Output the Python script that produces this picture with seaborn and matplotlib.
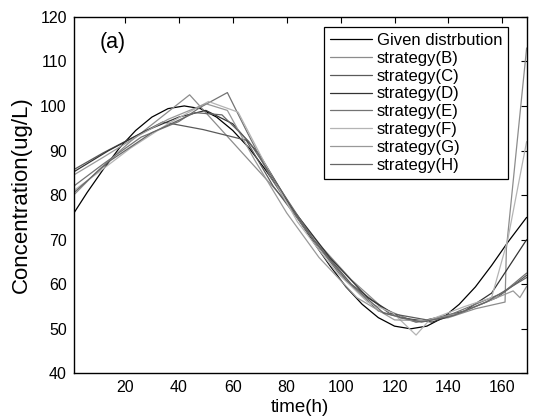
import pandas as pd
import seaborn as sns
import matplotlib.pyplot as plt

# given distribution (read every 6 h)
t_given = [1, 6, 12, 18, 24, 30, 36, 42, 48, 54, 60, 66, 72, 78, 84, 90, 96,
           102, 108, 114, 120, 126, 132, 138, 144, 150, 156, 162, 169]
v_given = [75.9, 80.6, 85.8, 90.6, 94.5, 97.5, 99.4, 100.0, 99.4, 97.5, 94.5, 90.6,
           85.8, 80.6, 75.0, 69.4, 64.2, 59.4, 55.5, 52.5, 50.6, 50.0, 50.6, 52.5,
           55.5, 59.4, 64.2, 69.4, 75.0]

# strategies (break points)
t_B = [1, 10, 22, 44, 80, 92, 104, 116, 128, 140, 150, 161, 161.5, 169]
v_B = [80, 85.5, 92, 102.5, 78.5, 69, 61, 54.5, 51.5, 52.5, 54.5, 56, 68, 113]

t_C = [1, 12, 34, 49, 65, 75, 90, 104, 118, 132, 146, 158, 169]
v_C = [85.7, 89.5, 96.4, 94.7, 92.3, 82, 70, 60, 53.5, 52, 54, 57, 62]

t_D = [1, 14, 28, 40, 50, 60, 70, 82, 96, 110, 122, 134, 146, 156, 169]
v_D = [85.2, 90, 94.5, 97.5, 99, 96, 89, 77, 66, 57, 52.5, 51.5, 54, 58, 70]

t_E = [1, 12, 26, 40, 48, 58, 65, 74, 86, 100, 114, 128, 140, 152, 160, 169]
v_E = [82, 87, 93, 96.5, 99.7, 103, 94.5, 84, 73, 62, 54, 51.5, 53, 56, 58, 62.5]

t_F = [1, 10, 22, 36, 51, 62, 72, 84, 98, 110, 119.5, 128, 133, 146, 156, 162, 169]
v_F = [81, 85, 90.5, 96, 101, 98.6, 87, 74, 63, 56, 53.5, 48.6, 52, 55, 57, 70, 92]

t_G = [1, 12, 24, 36, 50, 58, 68, 80, 92, 106, 120, 132, 144, 156, 164, 166.5, 169]
v_G = [84.5, 88.5, 93, 97, 100.5, 99, 88, 76, 66, 57, 52, 51.8, 53.5, 56.5, 58.5, 57, 59.5]

t_H = [1, 14, 30, 46, 56, 66, 78, 90, 102, 116, 130, 142, 154, 169]
v_H = [80.5, 87.5, 94, 98.5, 98, 92, 81, 70, 61, 53.5, 51.5, 53, 56, 61.5]

names = ["Given distrbution", "strategy(B)", "strategy(C)", "strategy(D)",
         "strategy(E)", "strategy(F)", "strategy(G)", "strategy(H)"]
series = [(t_given, v_given), (t_B, v_B), (t_C, v_C), (t_D, v_D),
          (t_E, v_E), (t_F, v_F), (t_G, v_G), (t_H, v_H)]

frames = []
for name, (t, v) in zip(names, series):
    frames.append(pd.DataFrame({"t": t, "v": v, "series": name}))
df = pd.concat(frames, ignore_index=True)

colors = ["#000000", "#8c8c8c", "#5a5a5a", "#333333",
          "#737373", "#b4b4b4", "#999999", "#666666"]
palette = dict(zip(names, colors))

sns.set_style("white")
plt.rcParams["font.family"] = ["Liberation Sans", "DejaVu Sans"]
plt.rcParams["text.color"] = "black"
plt.rcParams["axes.labelcolor"] = "black"

fig = plt.figure(figsize=(5.36, 4.2), dpi=100)
ax = fig.add_axes([0.1375, 0.111, 0.845, 0.849])

sns.lineplot(data=df, x="t", y="v", hue="series", palette=palette,
             estimator=None, linewidth=0.9, ax=ax)

ax.set_xlim(1, 169)
ax.set_ylim(40, 120)
ax.set_xticks([20, 40, 60, 80, 100, 120, 140, 160])
ax.set_yticks(range(40, 121, 10))
ax.tick_params(direction="in", length=4, width=0.8, labelsize=11.5, pad=5,
               top=True, right=True, colors="black")
for s in ax.spines.values():
    s.set_color("black")
    s.set_linewidth(1.0)

ax.set_xlabel("time(h)", fontsize=13.5, labelpad=2.5)
ax.set_ylabel("Concentration(ug/L)", fontsize=16, labelpad=6)
ax.text(0.058, 0.929, "(a)", transform=ax.transAxes, fontsize=15.5, va="center")

leg = ax.legend(loc="upper right", bbox_to_anchor=(0.9587, 0.971), borderaxespad=0,
                fontsize=12, frameon=True, fancybox=False,
                edgecolor="black", framealpha=1, handlelength=2.5,
                labelspacing=0.17, borderpad=0.35, handletextpad=0.3)
leg.get_frame().set_linewidth(0.9)
leg.set_title(None)

plt.savefig("out.png", dpi=100)
